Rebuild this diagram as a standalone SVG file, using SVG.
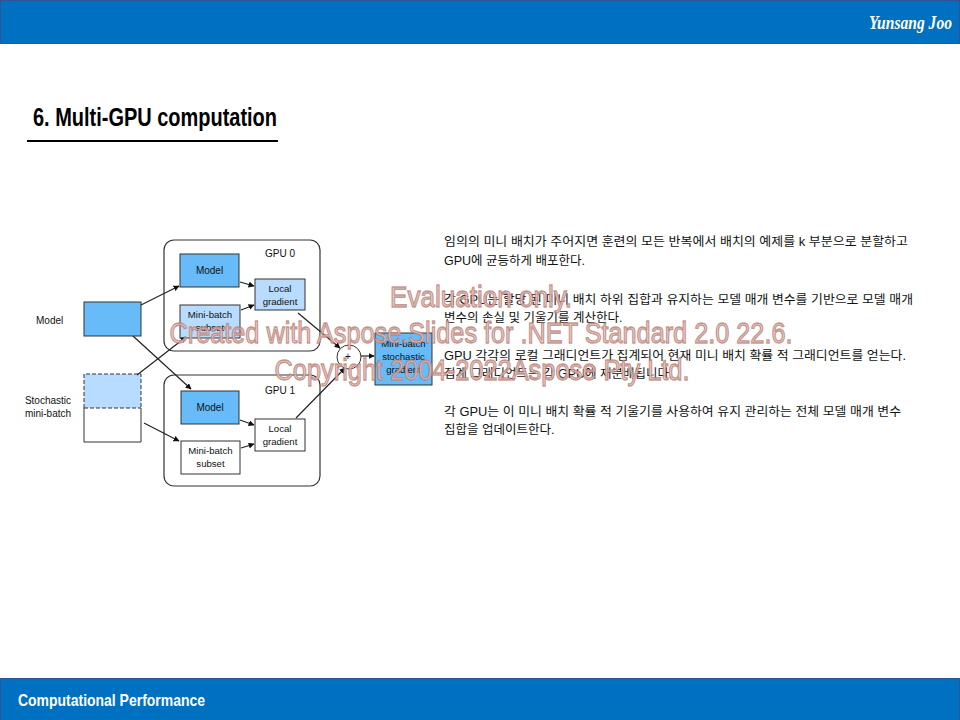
<svg xmlns="http://www.w3.org/2000/svg" width="960" height="720" viewBox="0 0 960 720">
  <style>
    .bar { fill: #0070C0; stroke: #2F5597; stroke-width: 1; }
    .lbl { font-family: "Liberation Sans", Arial, sans-serif; font-size: 10px; fill: #111; }
    .in { font-size: 9.6px; }
    .mid { text-anchor: middle; }
    .box { stroke: #333; stroke-width: 1; }
    .blue { fill: #66BBF8; }
    .pale { fill: #B8DCFF; }
    .white { fill: #FFFFFF; }
    .gpu { fill: none; stroke: #333; stroke-width: 1.2; }
    .edge { stroke: #222; stroke-width: 1.2; fill: none; marker-end: url(#arrow); }
    .body { font-family: "Liberation Sans", "Noto Sans CJK KR", sans-serif; font-size: 12.5px; fill: #111; }
    .wm { font-family: "Liberation Sans", Arial, sans-serif; font-size: 29px; fill: #EBC3BC; fill-opacity: 0.85; stroke: #B47C74; stroke-opacity: 0.75; stroke-width: 1.3; text-anchor: middle; }
  </style>
  <defs>
    <marker id="arrow" viewBox="0 0 10 10" refX="9" refY="5" markerWidth="6" markerHeight="6" orient="auto" markerUnits="userSpaceOnUse">
      <path d="M0,0 L10,5 L0,10 z" fill="#111"/>
    </marker>
  </defs>

  <rect width="960" height="720" fill="#FFFFFF"/>

  <!-- header / footer bars -->
  <rect class="bar" x="0.5" y="0.5" width="959" height="43"/>
  <text x="952" y="29" text-anchor="end" font-family="Liberation Serif, serif" font-style="italic" font-weight="bold" font-size="18" fill="#FFFFFF" textLength="83" lengthAdjust="spacingAndGlyphs">Yunsang Joo</text>
  <rect class="bar" x="0.5" y="678.5" width="959" height="42"/>
  <text x="18" y="706" font-family="Liberation Sans, sans-serif" font-weight="bold" font-size="17" fill="#FFFFFF" textLength="187" lengthAdjust="spacingAndGlyphs">Computational Performance</text>

  <!-- title -->
  <text x="33" y="126" font-family="Liberation Sans, sans-serif" font-weight="bold" font-size="25" fill="#000" textLength="244" lengthAdjust="spacingAndGlyphs">6. Multi-GPU computation</text>
  <line x1="27" y1="141" x2="278" y2="141" stroke="#000" stroke-width="2"/>

  <!-- inputs -->
  <g id="model-label"><text class="lbl" x="36" y="324">Model</text></g>
  <g id="model-src"><rect class="box blue" x="84" y="302" width="57" height="34"/></g>
  <g id="batch-label">
    <text class="lbl" x="48" y="404" text-anchor="middle">Stochastic</text>
    <text class="lbl" x="48" y="417" text-anchor="middle">mini-batch</text>
  </g>
  <g id="batch-src">
    <rect class="white" x="84" y="374" width="57" height="68"/>
    <rect class="pale" x="84" y="374" width="57" height="34"/>
    <path d="M84,408 V374 H141 V408" fill="none" stroke="#333" stroke-dasharray="4,2"/>
    <line x1="84" y1="408" x2="141" y2="408" stroke="#333" stroke-dasharray="4,2"/>
    <path d="M84,408 V442 H141 V408" fill="none" stroke="#333"/>
  </g>

  <!-- GPU 0 -->
  <g id="gpu0">
    <rect class="gpu" x="164" y="240" width="156" height="111" rx="10"/>
    <text class="lbl" x="280" y="257" text-anchor="middle">GPU 0</text>
  </g>
  <g id="gpu0-model">
    <rect class="box blue" x="180" y="254" width="59" height="33"/>
    <text class="lbl mid" x="209.5" y="274">Model</text>
  </g>
  <g id="gpu0-subset">
    <rect class="box pale" x="180" y="305" width="60" height="33"/>
    <text class="lbl in mid" x="210" y="318">Mini-batch</text>
    <text class="lbl in mid" x="210" y="331">subset</text>
  </g>
  <g id="gpu0-grad">
    <rect class="box pale" x="255" y="279" width="50" height="31"/>
    <text class="lbl in mid" x="280" y="292">Local</text>
    <text class="lbl in mid" x="280" y="305">gradient</text>
  </g>

  <!-- GPU 1 -->
  <g id="gpu1">
    <rect class="gpu" x="164" y="375" width="156" height="111" rx="10"/>
    <text class="lbl" x="280" y="394" text-anchor="middle">GPU 1</text>
  </g>
  <g id="gpu1-model">
    <rect class="box blue" x="181" y="391" width="58" height="33"/>
    <text class="lbl mid" x="210" y="411">Model</text>
  </g>
  <g id="gpu1-subset">
    <rect class="box white" x="181" y="441" width="59" height="33"/>
    <text class="lbl in mid" x="210.5" y="454">Mini-batch</text>
    <text class="lbl in mid" x="210.5" y="467">subset</text>
  </g>
  <g id="gpu1-grad">
    <rect class="box white" x="255" y="419" width="50" height="32"/>
    <text class="lbl in mid" x="280" y="432">Local</text>
    <text class="lbl in mid" x="280" y="445">gradient</text>
  </g>

  <!-- aggregation -->
  <g id="sum">
    <circle cx="349" cy="357" r="12" fill="#FFFFFF" stroke="#333" stroke-width="1"/>
    <text class="lbl mid" x="348" y="360" font-size="9">+</text>
  </g>
  <g id="result">
    <rect class="box blue" x="375" y="333" width="57" height="52"/>
    <text class="lbl in mid" x="403.5" y="347">Mini-batch</text>
    <text class="lbl in mid" x="403.5" y="360">stochastic</text>
    <text class="lbl in mid" x="403.5" y="373">gradient</text>
  </g>

  <!-- connectors -->
  <g id="edges">
    <line class="edge" x1="141" y1="305" x2="179" y2="286"/>
    <line class="edge" x1="133" y1="336" x2="191" y2="389"/>
    <line class="edge" x1="137" y1="375" x2="186" y2="337"/>
    <line class="edge" x1="144" y1="423" x2="179" y2="441"/>
    <line class="edge" x1="240" y1="282" x2="254" y2="286"/>
    <line class="edge" x1="241" y1="310" x2="254" y2="305"/>
    <line class="edge" x1="240" y1="420" x2="254" y2="425"/>
    <line class="edge" x1="241" y1="448" x2="254" y2="444"/>
    <line class="edge" x1="298" y1="313" x2="340" y2="348"/>
    <line class="edge" x1="296" y1="418" x2="345" y2="368"/>
    <line class="edge" x1="361" y1="356" x2="374" y2="356"/>
  </g>

  <!-- explanatory text -->
  <g id="notes" class="body">
    <text x="444" y="246" textLength="464" lengthAdjust="spacingAndGlyphs">임의의 미니 배치가 주어지면 훈련의 모든 반복에서 배치의 예제를 k 부분으로 분할하고</text>
    <text x="444" y="265">GPU에 균등하게 배포한다.</text>
    <text x="444" y="304" textLength="469" lengthAdjust="spacingAndGlyphs">각 GPU는 할당 된 미니 배치 하위 집합과 유지하는 모델 매개 변수를 기반으로 모델 매개</text>
    <text x="444" y="322">변수의 손실 및 기울기를 계산한다.</text>
    <text x="444" y="360" textLength="462" lengthAdjust="spacingAndGlyphs">GPU 각각의 로컬 그래디언트가 집계되어 현재 미니 배치 확률 적 그래디언트를 얻는다.</text>
    <text x="444" y="378">집계 그래디언트는 각 GPU에 재분배됩니다.</text>
    <text x="444" y="416" textLength="457" lengthAdjust="spacingAndGlyphs">각 GPU는 이 미니 배치 확률 적 기울기를 사용하여 유지 관리하는 전체 모델 매개 변수</text>
    <text x="444" y="434">집합을 업데이트한다.</text>
  </g>

  <!-- evaluation watermark -->
  <g id="watermark" class="wm">
    <text x="481" y="307" textLength="182" lengthAdjust="spacingAndGlyphs">Evaluation only.</text>
    <text x="481" y="343" textLength="623" lengthAdjust="spacingAndGlyphs">Created with Aspose.Slides for .NET Standard 2.0 22.6.</text>
    <text x="482" y="380" textLength="415" lengthAdjust="spacingAndGlyphs">Copyright 2004-2022Aspose Pty Ltd.</text>
  </g>
</svg>
